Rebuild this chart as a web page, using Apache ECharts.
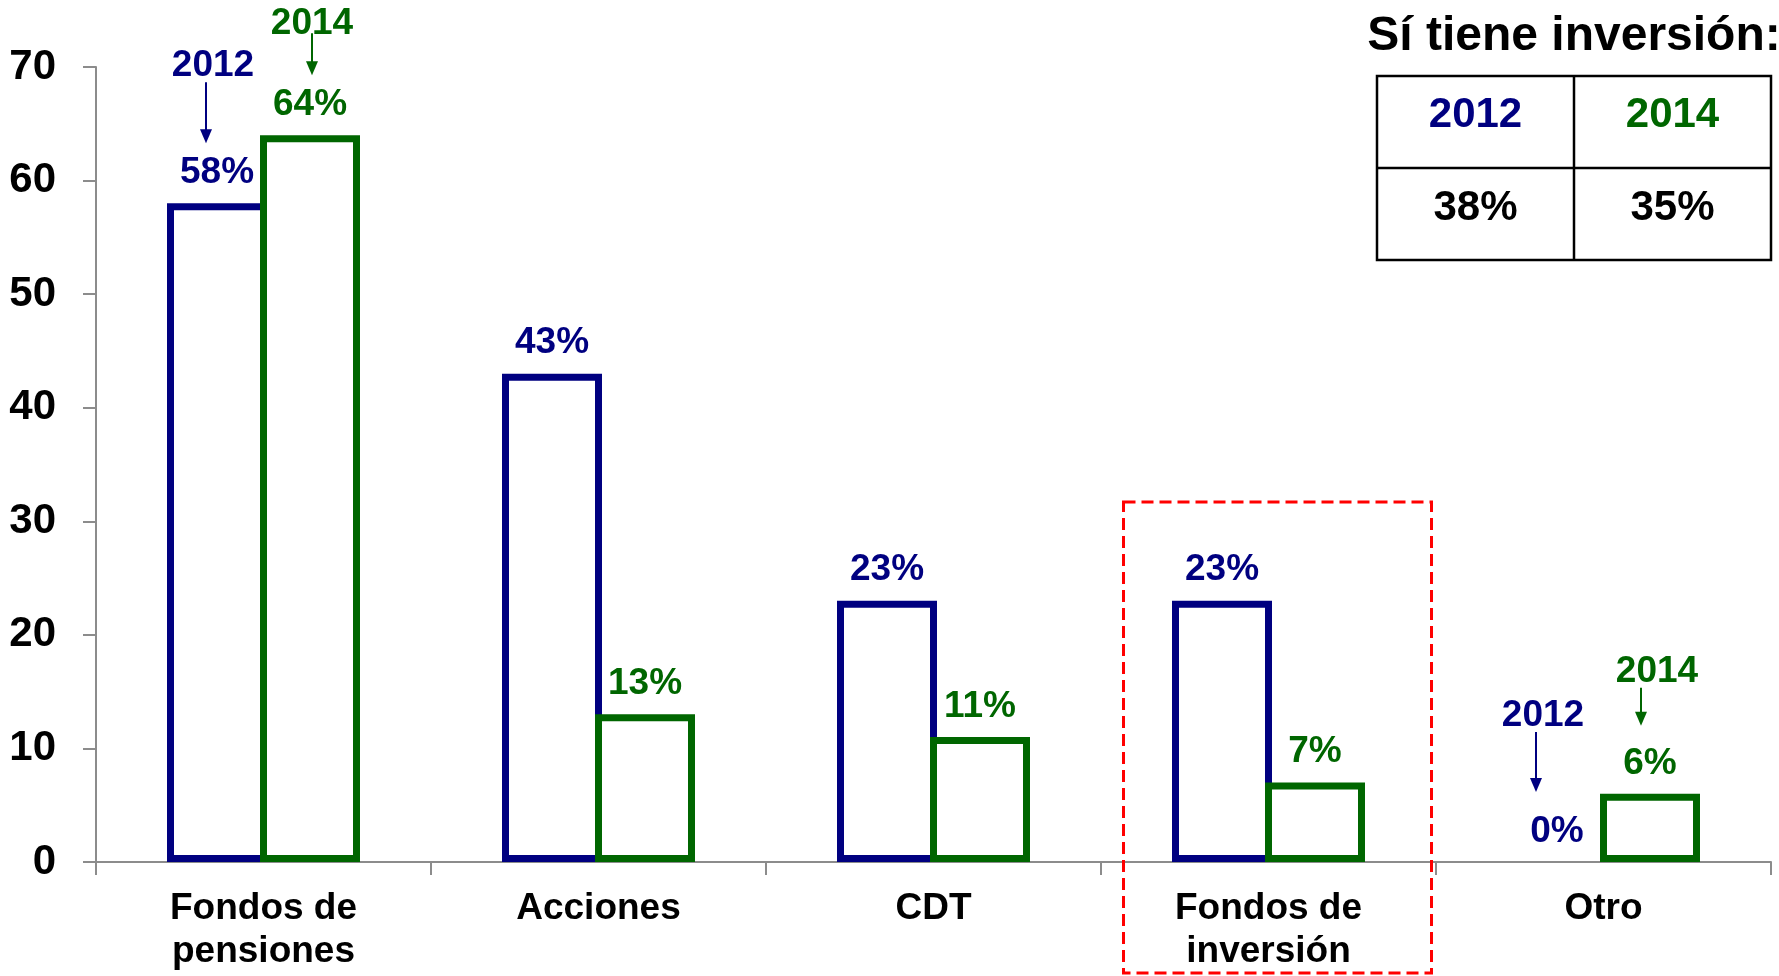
<!DOCTYPE html>
<html><head><meta charset="utf-8">
<script src="https://cdn.jsdelivr.net/npm/echarts@6/dist/echarts.min.js"></script>
<style>html,body{margin:0;padding:0;background:#fff}#c{width:1779px;height:976px}</style>
</head><body><div id="c"></div>
<script>
// ---- data ----
const categories = ['Fondos de\npensiones', 'Acciones', 'CDT', 'Fondos de\ninversión', 'Otro'];
const values2012 = [58, 43, 23, 23, 0];
const values2014 = [64, 13, 11, 7, 6];
const seriesNames = ['2012', '2014'];
const yMin = 0, yMax = 70, yInterval = 10;
const tableTitle = 'Sí tiene inversión:';
const tableYears = ['2012', '2014'];
const tableValues = ['38%', '35%'];
const highlightCategory = 3;
const annotations = [
  { series: 0, index: 0, text: '2012' },
  { series: 1, index: 0, text: '2014' },
  { series: 0, index: 4, text: '2012' },
  { series: 1, index: 4, text: '2014' }
];

// ---- layout / style ----
const FF = '"Liberation Sans", Arial, sans-serif';
const NAVY = '#000080', GREEN = '#006600', GREY = '#8c8c8c';
const COLORS = [NAVY, GREEN];
const BAR_W = 100, BAR_GAP = 0.07;
const annotationLayout = [
  { gap: 60, len: 61, adx: -11, tdx: -4, tdy: -16 },
  { gap: 60, len: 42, adx: 2, tdx: 2, tdy: -9 },
  { gap: 70, len: 60, adx: -21, tdx: -14, tdy: -16 },
  { gap: 68, len: 38, adx: -9, tdx: 7, tdy: -16 }
];

const chart = echarts.init(document.getElementById('c'), null, { renderer: 'canvas' });

function barData(vals) {
  return vals.map(v => v === 0 ? { value: v, itemStyle: { borderWidth: 0 } } : v);
}
function mkSeries(i, vals) {
  return {
    name: seriesNames[i], type: 'bar', data: barData(vals),
    barWidth: BAR_W, barGap: (-BAR_GAP * 100) + '%',
    itemStyle: { color: '#ffffff', borderColor: COLORS[i], borderWidth: 7 },
    label: {
      show: true, position: 'top', distance: 12, formatter: '{c}%',
      color: COLORS[i], fontSize: 37, fontWeight: 'bold', fontFamily: FF
    },
    z: 2 + i
  };
}

chart.setOption({
  animation: false,
  backgroundColor: '#ffffff',
  grid: { left: 96, right: 8, top: 67, bottom: 114 },
  xAxis: {
    type: 'category', data: categories,
    axisLine: { show: true, lineStyle: { color: GREY, width: 2 } },
    axisTick: { show: true, length: 13, lineStyle: { color: GREY, width: 2 } },
    axisLabel: { interval: 0, margin: 25, color: '#000', fontSize: 37, fontWeight: 'bold', fontFamily: FF, lineHeight: 43 }
  },
  yAxis: {
    type: 'value', min: yMin, max: yMax, interval: yInterval,
    axisLine: { show: true, lineStyle: { color: GREY, width: 2 } },
    axisTick: { show: true, length: 13, lineStyle: { color: GREY, width: 2 } },
    splitLine: { show: false },
    axisLabel: { margin: 40, color: '#000', fontSize: 42, fontWeight: 'bold', fontFamily: FF }
  },
  series: [mkSeries(0, values2012), mkSeries(1, values2014)]
});

// ---- overlay graphics positioned via the chart's scales ----
const graphics = [];
const vals = [values2012, values2014];
const groupW = BAR_W * (2 - BAR_GAP);
annotations.forEach((a, i) => {
  const L = annotationLayout[i];
  const p = chart.convertToPixel({ gridIndex: 0 }, [a.index, vals[a.series][a.index]]);
  const start = p[0] - groupW / 2;
  const cx = a.series === 0 ? start + BAR_W / 2 : start + groupW - BAR_W / 2;
  const top = p[1];
  const col = COLORS[a.series];
  const yEnd = top - L.gap, yStart = yEnd - L.len;
  const ax = cx + L.adx;
  graphics.push({ type: 'line', shape: { x1: ax, y1: yStart, x2: ax, y2: yEnd - 10 }, style: { stroke: col, lineWidth: 2 }, z: 10 });
  graphics.push({ type: 'polygon', shape: { points: [[ax - 6, yEnd - 14], [ax + 6, yEnd - 14], [ax, yEnd]] }, style: { fill: col }, z: 10 });
  graphics.push({ type: 'text', style: { text: a.text, x: cx + L.tdx, y: yStart + L.tdy, align: 'center', verticalAlign: 'middle', fill: col, font: 'bold 37px ' + FF }, z: 10 });
});

// red dashed highlight box around a category
const hc = chart.convertToPixel({ gridIndex: 0 }, [highlightCategory, 0]);
graphics.push({ type: 'rect', shape: { x: hc[0] - 145, y: 502, width: 308, height: 471 }, style: { fill: 'none', stroke: '#ff0000', lineWidth: 3, lineDash: [12, 6] }, z: 11 });

// summary table
const TX = 1377, TY = 76, CW = 197, RH = 92;
graphics.push({ type: 'text', style: { text: tableTitle, x: TX + CW, y: 37, align: 'center', verticalAlign: 'middle', fill: '#000', font: 'bold 48px ' + FF }, z: 10 });
graphics.push({ type: 'rect', shape: { x: TX, y: TY, width: 2 * CW, height: 2 * RH }, style: { fill: 'none', stroke: '#000', lineWidth: 2.5 }, z: 10 });
graphics.push({ type: 'line', shape: { x1: TX + CW, y1: TY, x2: TX + CW, y2: TY + 2 * RH }, style: { stroke: '#000', lineWidth: 2.5 }, z: 10 });
graphics.push({ type: 'line', shape: { x1: TX, y1: TY + RH, x2: TX + 2 * CW, y2: TY + RH }, style: { stroke: '#000', lineWidth: 2.5 }, z: 10 });
tableYears.forEach((yr, j) => {
  graphics.push({ type: 'text', style: { text: yr, x: TX + CW * j + CW / 2, y: TY + 39, align: 'center', verticalAlign: 'middle', fill: COLORS[j], font: 'bold 42px ' + FF }, z: 10 });
  graphics.push({ type: 'text', style: { text: tableValues[j], x: TX + CW * j + CW / 2, y: TY + RH + 40, align: 'center', verticalAlign: 'middle', fill: '#000', font: 'bold 42px ' + FF }, z: 10 });
});

chart.setOption({ graphic: graphics });
</script>
</body></html>
